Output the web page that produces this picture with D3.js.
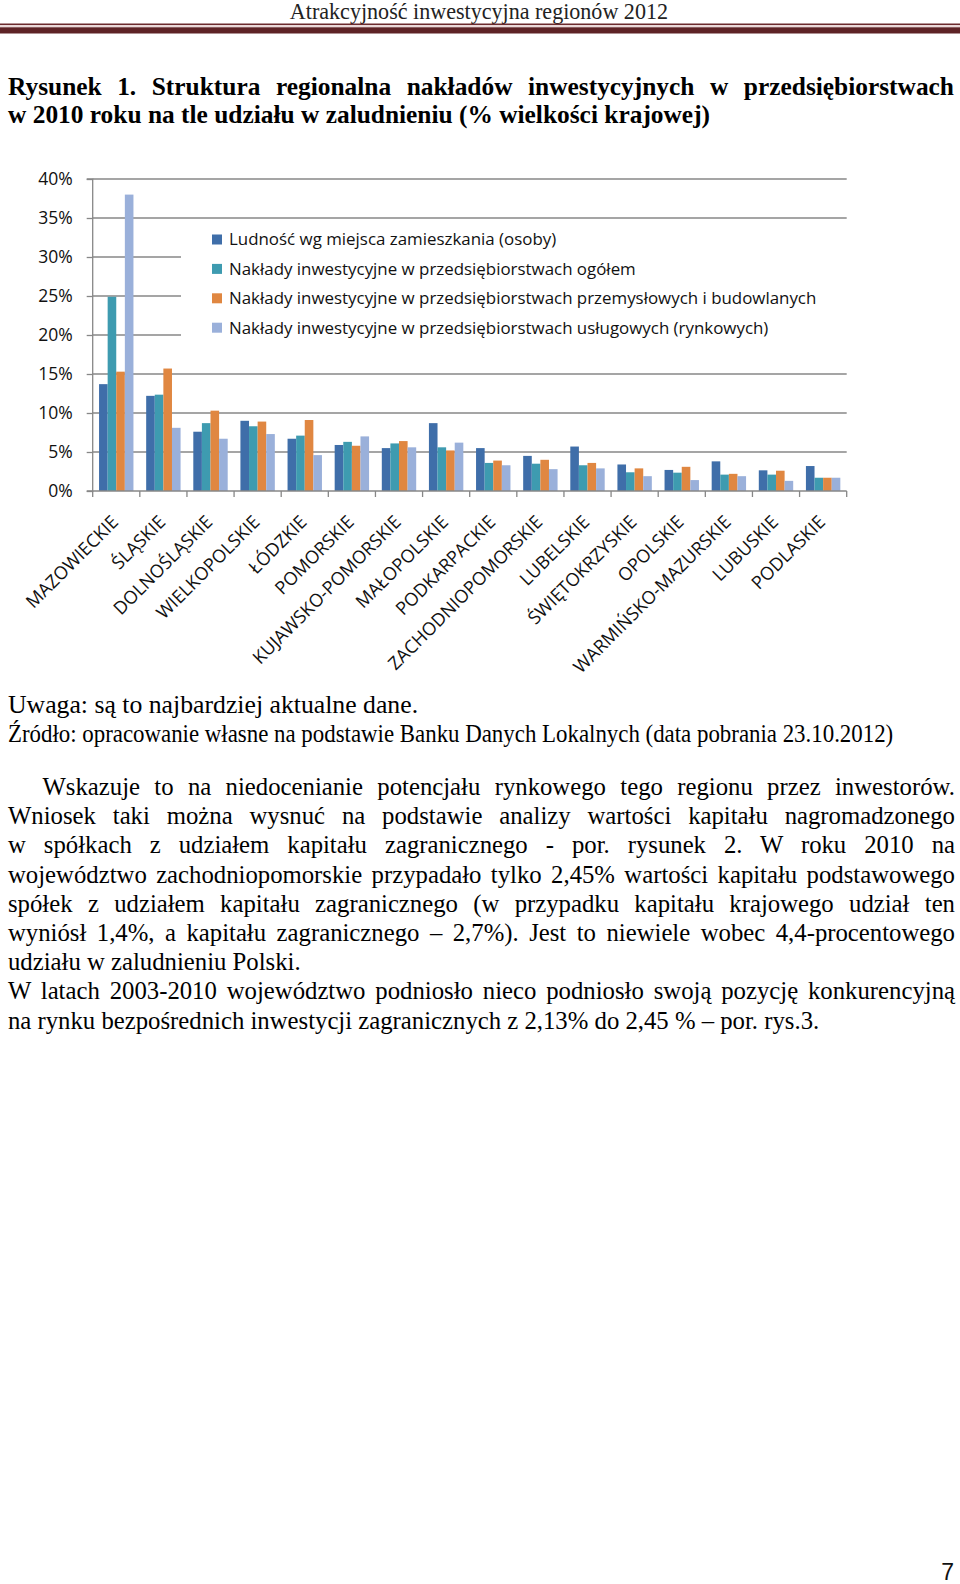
<!DOCTYPE html>
<html><head><meta charset="utf-8">
<script src="https://cdn.jsdelivr.net/npm/d3@7"></script>
<style>body{margin:0;background:#fff}svg{display:block}</style>
</head><body>
<svg id="page" width="960" height="1584"></svg>
<script>
// ---------- DATA ----------
const categories = ["MAZOWIECKIE","ŚLĄSKIE","DOLNOŚLĄSKIE","WIELKOPOLSKIE","ŁÓDZKIE","POMORSKIE",
  "KUJAWSKO-POMORSKIE","MAŁOPOLSKIE","PODKARPACKIE","ZACHODNIOPOMORSKIE","LUBELSKIE",
  "ŚWIĘTOKRZYSKIE","OPOLSKIE","WARMIŃSKO-MAZURSKIE","LUBUSKIE","PODLASKIE"];
const seriesNames = ["Ludność wg miejsca zamieszkania (osoby)",
  "Nakłady inwestycyjne w przedsiębiorstwach ogółem",
  "Nakłady inwestycyjne w przedsiębiorstwach przemysłowych i budowlanych",
  "Nakłady inwestycyjne w przedsiębiorstwach usługowych (rynkowych)"];
const ludnosc   = [13.7,12.2,7.6,9.0,6.7,5.9,5.5,8.7,5.5,4.5,5.7,3.4,2.7,3.8,2.65,3.2];
const ogolem    = [24.9,12.35,8.7,8.3,7.1,6.3,6.1,5.6,3.6,3.5,3.3,2.4,2.35,2.1,2.1,1.7];
const przemysl  = [15.3,15.7,10.3,8.9,9.1,5.8,6.4,5.2,3.9,4.0,3.6,2.9,3.1,2.2,2.6,1.7];
const uslugi    = [38.0,8.1,6.7,7.3,4.6,7.0,5.6,6.2,3.3,2.8,2.9,1.9,1.4,1.9,1.3,1.7];
const yTicks = [0,5,10,15,20,25,30,35,40];
const colors = ["#3F6EA9","#3E9BB0","#E08741","#9AB0DA"];

const headerText = "Atrakcyjność inwestycyjna regionów 2012";
const titleLines = ["Rysunek 1. Struktura regionalna nakładów inwestycyjnych w przedsiębiorstwach",
  "w 2010 roku na tle udziału w zaludnieniu (% wielkości krajowej)"];
const noteLines = ["Uwaga: są to najbardziej aktualne dane.",
  "Źródło: opracowanie własne na podstawie Banku Danych Lokalnych (data pobrania 23.10.2012)"];
const bodyLines = [
  {t:"Wskazuje to na niedocenianie potencjału rynkowego tego regionu przez inwestorów.", indent:true, just:true},
  {t:"Wniosek taki można wysnuć na podstawie analizy wartości kapitału nagromadzonego", just:true},
  {t:"w spółkach z udziałem kapitału zagranicznego - por. rysunek 2. W roku 2010 na", just:true},
  {t:"województwo zachodniopomorskie przypadało tylko 2,45% wartości kapitału podstawowego", just:true},
  {t:"spółek z udziałem kapitału zagranicznego (w przypadku kapitału krajowego udział ten", just:true},
  {t:"wyniósł 1,4%, a kapitału zagranicznego – 2,7%). Jest to niewiele wobec 4,4-procentowego", just:true},
  {t:"udziału w zaludnieniu Polski.", just:false},
  {t:"W latach 2003-2010 województwo podniosło nieco podniosło swoją pozycję konkurencyjną", just:true},
  {t:"na rynku bezpośrednich inwestycji zagranicznych z 2,13% do 2,45 % – por. rys.3.", just:false}
];

// ---------- DRAW ----------
const svg = d3.select("#page");
svg.append("rect").attr("width",960).attr("height",1584).attr("fill","#fff");

const serif = "'Liberation Serif','Times New Roman',serif";

// header
const HSX = 0.96;
svg.append("text").attr("x",668/HSX).attr("y",19).attr("transform",`scale(${HSX},1)`)
  .attr("text-anchor","end").attr("font-family",serif).attr("font-size",23).attr("fill","#222")
  .text(headerText);
svg.append("rect").attr("x",0).attr("y",23.5).attr("width",960).attr("height",1.6).attr("fill","#6b2a2d");
svg.append("rect").attr("x",0).attr("y",25.1).attr("width",960).attr("height",2.2).attr("fill","#ead8d8");
svg.append("rect").attr("x",0).attr("y",27.3).attr("width",960).attr("height",6.2).attr("fill","#5E2326");

function justifyLine(g, text, x0, x1, y, just, opts){
  const sx = opts.sx;
  const t = g.append("text").attr("x",x0/sx).attr("y",y).attr("transform",`scale(${sx},1)`)
    .attr("font-family",serif).attr("font-size",opts.size).attr("font-weight",opts.weight||"normal")
    .attr("fill","#000").text(text);
  if(just){
    const w = t.node().getComputedTextLength();
    const n = text.split(" ").length-1;
    const target = (x1-x0)/sx;
    if(n>0) t.attr("word-spacing", Math.max(0,(target-w)/n));
  }
  return t;
}
const tg = svg.append("g");
justifyLine(tg, titleLines[0], 8, 954, 95, true, {size:25.4, weight:"bold", sx:1});
justifyLine(tg, titleLines[1], 8, 954, 123, false, {size:25.4, weight:"bold", sx:1});

// ---------- CHART ----------
const sans = "'Open Sans','Noto Sans',sans-serif";
const x0 = d3.scaleBand().domain(categories).range([92.7,846.7]).padding(0);
const x1 = d3.scaleBand().domain(d3.range(4)).range([6.35,40.75]).padding(0);
const y = d3.scaleLinear().domain([0,40]).range([491,179]);
const seriesData = [ludnosc, ogolem, przemysl, uslugi];
const gridColor = "#878787";

const chart = svg.append("g");
// gridlines
chart.append("g").selectAll("line").data(yTicks.filter(d=>d>0)).join("line")
  .attr("x1",x0.range()[0]).attr("x2",x0.range()[1])
  .attr("y1",d=>y(d)).attr("y2",d=>y(d))
  .attr("stroke",gridColor).attr("stroke-width",1.3);

// legend box (covers gridlines)
chart.append("rect").attr("x",181).attr("y",223).attr("width",672).attr("height",128).attr("fill","#fff");

// bars
const groups = chart.append("g").selectAll("g").data(categories).join("g")
  .attr("transform",d=>`translate(${x0(d)},0)`);
groups.selectAll("rect").data((d,i)=>seriesData.map((s,k)=>({k, v:s[i]}))).join("rect")
  .attr("x",d=>x1(d.k)).attr("width",x1.bandwidth())
  .attr("y",d=>y(d.v)).attr("height",d=>y(0)-y(d.v))
  .attr("fill",d=>colors[d.k]);

// y axis
const yAxis = d3.axisLeft(y).tickValues(yTicks).tickSize(6).tickFormat(d=>d+"%").tickPadding(14);
const ya = chart.append("g").attr("transform",`translate(${x0.range()[0]},0)`).call(yAxis);
ya.select(".domain").attr("stroke",gridColor).attr("stroke-width",1.3).attr("d",`M-6,${y(40)}H0V${y(0)}H-6`);
ya.selectAll(".tick line").attr("stroke",gridColor).attr("stroke-width",1.3);
ya.selectAll(".tick text").attr("font-family",sans).attr("font-size",17.5).attr("fill","#111");

// x axis line and ticks at category boundaries
chart.append("line").attr("x1",x0.range()[0]).attr("x2",x0.range()[1]).attr("y1",y(0)).attr("y2",y(0))
  .attr("stroke",gridColor).attr("stroke-width",1.3);
const bounds = categories.map(c=>x0(c)).concat([x0.range()[1]]);
chart.append("g").selectAll("line").data(bounds).join("line")
  .attr("x1",d=>d).attr("x2",d=>d).attr("y1",y(0)).attr("y2",y(0)+6)
  .attr("stroke",gridColor).attr("stroke-width",1.3);

// x labels rotated
chart.append("g").selectAll("text").data(categories).join("text")
  .attr("transform",d=>`translate(${x0(d)+x0.bandwidth()/2-6},${y(0)+23}) rotate(-45)`)
  .attr("text-anchor","end").attr("dy","0.72em")
  .attr("font-family",sans).attr("font-size",18.1).attr("fill","#111")
  .text(d=>d);

// legend
const lg = chart.append("g").selectAll("g").data(seriesNames).join("g")
  .attr("transform",(d,i)=>`translate(212,${239.5+i*29.4})`);
lg.append("rect").attr("x",0).attr("y",-5).attr("width",10).attr("height",10).attr("fill",(d,i)=>colors[i]);
lg.append("text").attr("x",17).attr("dy","0.35em").attr("font-family",sans).attr("font-size",16.9)
  .attr("fill","#111").text(d=>d);

// ---------- NOTES AND BODY ----------
const bg = svg.append("g");
const bodyOpts = {size:25, sx:0.99};
justifyLine(bg, noteLines[0], 8, 955, 713, false, {size:25, sx:1.03});
justifyLine(bg, noteLines[1], 8, 955, 742, false, {size:25, sx:0.915});
bodyLines.forEach((l,i)=>{
  justifyLine(bg, l.t, l.indent?42.5:8, 955, 795+i*29.2, l.just, bodyOpts);
});

// page number
svg.append("text").attr("x",954).attr("y",1580).attr("text-anchor","end")
  .attr("font-family","'Liberation Sans',Arial,sans-serif").attr("font-size",23).attr("fill","#111").text("7");
</script>
</body></html>
